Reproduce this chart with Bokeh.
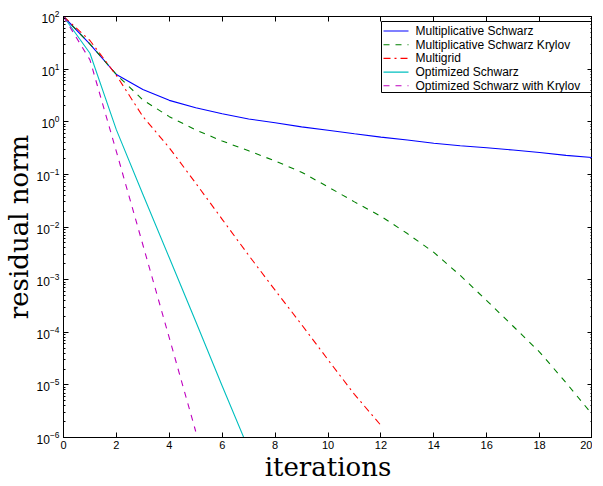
from bokeh.plotting import figure
from bokeh.models import LinearAxis, FixedTicker, Range1d, LinearScale
from bokeh.core.properties import value
from bokeh.embed import file_html
from bokeh.resources import INLINE

# ---- data ----
it_ms = list(range(0, 21))
mult_schwarz = [100, 30, 7.9, 4.1, 2.55, 1.84, 1.42, 1.13, 0.96, 0.8, 0.69,
                0.59, 0.51, 0.45, 0.39, 0.35, 0.32, 0.29, 0.26, 0.23, 0.209]

it_msk = list(range(0, 21))
mult_schwarz_krylov = [100, 30, 7.9, 2.6, 1.25, 0.7, 0.43, 0.28, 0.18, 0.11, 0.058,
                       0.03, 0.016, 7.5e-3, 3.3e-3, 1.2e-3, 4e-4, 1.3e-4, 4.2e-5, 1.1e-5, 2.7e-6]

it_mg = list(range(0, 13))
multigrid = [100, 35, 7.6, 1.26, 0.32, 0.068, 0.014, 2.9e-3, 6.3e-4, 1.4e-4, 3e-5, 6.6e-6, 1.7e-6]

it_os = list(range(0, 8))
opt_schwarz = [100, 20, 0.7, 0.042, 2.6e-3, 1.6e-4, 9.5e-6, 6e-7]

it_osk = list(range(0, 6))
opt_schwarz_krylov = [100, 15, 0.27, 4.6e-3, 7.8e-5, 1.3e-6]

x_ticks = list(range(0, 21, 2))
y_exponents = list(range(-6, 3))
y_ticks = [10.0 ** e for e in y_exponents]
y_minor = [k * 10.0 ** e for e in y_exponents[:-1] for k in range(2, 10)]

labels = ["Multiplicative Schwarz", "Multiplicative Schwarz Krylov", "Multigrid",
          "Optimized Schwarz", "Optimized Schwarz with Krylov"]
colors = ["#0000ff", "#008000", "#ff0000", "#00bfbf", "#bf00bf"]
dashes = ["solid", "6 6", "7 4 2 4", "solid", "6 6"]

FW, FH = 529, 421  # frame size in px

# ---- figure ----
p = figure(frame_width=FW, frame_height=FH, y_axis_type="log",
           x_range=Range1d(0, 20), y_range=Range1d(1e-6, 1e2),
           output_backend="svg", toolbar_location=None,
           min_border_left=57, min_border_right=0, min_border_top=16, min_border_bottom=0)
p.grid.visible = False
p.outline_line_color = "black"
p.outline_line_width = 1
p.background_fill_color = "white"
p.border_fill_color = "white"

TICK_FONT = "Liberation Sans"

def style_axis(ax, show_labels=True):
    ax.axis_line_color = "black"
    ax.axis_line_width = 1
    ax.major_tick_in = 5
    ax.major_tick_out = 0
    ax.minor_tick_in = 2
    ax.minor_tick_out = 0
    ax.major_tick_line_color = "black"
    ax.minor_tick_line_color = "black"
    ax.major_label_text_font = TICK_FONT
    ax.major_label_text_font_size = "11px"
    ax.major_label_text_color = "black"
    if not show_labels:
        ax.major_label_text_font_size = "1px"
        ax.major_label_text_color = None
        ax.major_label_standoff = 0
        ax.axis_label_standoff = 0

p.xaxis.ticker = FixedTicker(ticks=x_ticks, minor_ticks=[])
p.yaxis.ticker = FixedTicker(ticks=y_ticks, minor_ticks=y_minor)
for ax in p.xaxis:
    style_axis(ax)
    ax.major_label_standoff = 3
for ax in p.yaxis:
    style_axis(ax)
    ax.major_label_text_font_size = "12px"
    ax.major_label_standoff = 4

p.xaxis.axis_label = "iterations"
p.yaxis.axis_label = "residual norm"
for ax in list(p.xaxis) + list(p.yaxis):
    ax.axis_label_text_font = "DejaVu Serif"
    ax.axis_label_text_font_size = "26px"
    ax.axis_label_text_font_style = "normal"
    ax.axis_label_text_color = "black"
    ax.axis_label_standoff = 0

top = LinearAxis(ticker=FixedTicker(ticks=x_ticks, minor_ticks=[]))
style_axis(top, show_labels=False)
p.add_layout(top, "above")
right = LinearAxis(ticker=FixedTicker(ticks=y_ticks, minor_ticks=y_minor))
style_axis(right, show_labels=False)
p.add_layout(right, "right")

# ---- data lines ----
lw = 1.1
series = [(it_ms, mult_schwarz), (it_msk, mult_schwarz_krylov), (it_mg, multigrid),
          (it_os, opt_schwarz), (it_osk, opt_schwarz_krylov)]
for (xs, ys), c, d in zip(series, colors, dashes):
    p.line(xs, ys, line_color=c, line_width=lw, line_dash=d)

# ---- legend (drawn in frame pixel space) ----
p.extra_x_ranges = {"px": Range1d(0, FW)}
p.extra_y_ranges = {"px": Range1d(FH, 0)}
p.extra_x_scales = {"px": LinearScale()}
p.extra_y_scales = {"px": LinearScale()}

box_w, box_h = 210, 71
box_r, box_t = FW - 1, 5
box_l = box_r - box_w
row0, row_step = 9.5, 13.7
p.quad(left=[box_l], right=[box_r], top=[box_t], bottom=[box_t + box_h],
       fill_color="white", line_color="black", line_width=1,
       x_range_name="px", y_range_name="px")
for i, (lab, c, d) in enumerate(zip(labels, colors, dashes)):
    yy = box_t + row0 + i * row_step
    p.line([box_l + 2, box_l + 27], [yy, yy], line_color=c, line_width=lw, line_dash=d,
           x_range_name="px", y_range_name="px")
    p.text(x=[box_l + 34], y=[yy], text=[lab], text_font=value(TICK_FONT),
           text_font_size="12px", text_color="black", text_baseline="middle",
           text_align="left", x_range_name="px", y_range_name="px")

open("out.html", "w").write(file_html(p, INLINE))
